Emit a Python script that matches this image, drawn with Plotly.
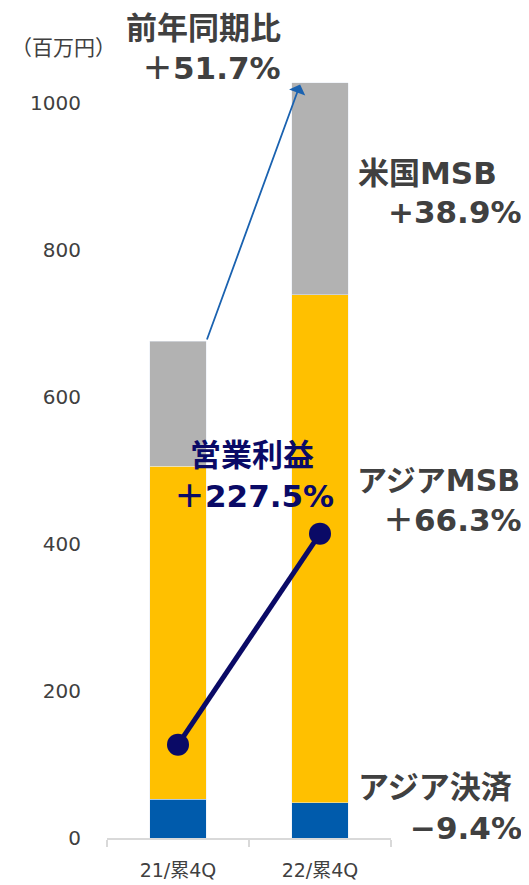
import plotly.graph_objects as go

categories = ["21/累4Q", "22/累4Q"]
asia_payment = [53, 48]
asia_msb = [453, 691]
us_msb = [170, 288]
operating_profit = [127, 414]
tick_vals = [0, 200, 400, 600, 800, 1000]

# page body has an 8px margin; compensate so the figure fills the 529x885 window
OFF = 8
W, H = 529 - OFF, 885 - OFF
L, R, T, B = 99, 138, 36, 47
pw, ph = W - L - R, H - T - B

def px(x):
    return (x - OFF - L) / pw

def py(y):
    return (H - B - (y - OFF)) / ph

FONT = "DejaVu Sans, Noto Sans CJK JP, sans-serif"
CJK = "Noto Sans CJK JP, sans-serif"
GRAY_TXT = "#404040"
NAVY = "#0a0a66"

fig = go.Figure()
fig.add_bar(x=categories, y=asia_payment, marker_color="#005bac", width=0.4, name="アジア決済")
fig.add_bar(x=categories, y=asia_msb, marker_color="#ffc000", width=0.4, name="アジアMSB")
fig.add_bar(x=categories, y=us_msb, marker_color="#b2b2b2", width=0.4, name="米国MSB")
fig.add_scatter(x=categories, y=operating_profit, mode="lines+markers",
                line=dict(color=NAVY, width=5),
                marker=dict(color=NAVY, size=22), name="営業利益")

totals = [a + b + c for a, b, c in zip(asia_payment, asia_msb, us_msb)]

annos = []
annos.append(dict(x=0.86, y=totals[1] - 2, ax=0.2, ay=totals[0], xref="x", yref="y",
                  axref="x", ayref="y", showarrow=True, arrowhead=1, arrowsize=1.6,
                  arrowwidth=1.8, arrowcolor="#1a62b0", text=""))

def txt(text, x, y, anchor, color=GRAY_TXT, size=31, bold=True, family=FONT):
    annos.append(dict(text=("<b>%s</b>" % text) if bold else text,
                      x=px(x), y=py(y), xref="paper", yref="paper",
                      xanchor=anchor, yanchor="middle", showarrow=False,
                      font=dict(family=family, size=size, color=color)))

txt("（百万円）", 9, 46, "left", color="#404040", size=21, bold=False, family=CJK)
txt("前年同期比", 283, 28, "right")
txt("＋51.7%", 283, 68, "right")
txt("米国MSB", 356, 173, "left")
txt("+38.9%", 524, 212, "right")
txt("営業利益", 252, 455, "center", color=NAVY)
txt("＋227.5%", 254, 496, "center", color=NAVY)
txt("アジアMSB", 522, 480, "right", size=30)
txt("＋66.3%", 524, 520, "right")
txt("アジア決済", 356, 787, "left")
txt("−9.4%", 524, 828, "right")

fig.update_layout(
    width=W, height=H, barmode="stack", showlegend=False,
    margin=dict(l=L, r=R, t=T, b=B, autoexpand=False),
    plot_bgcolor="white", paper_bgcolor="white",
    font=dict(family=FONT, color="#595959"),
    annotations=annos,
)
fig.update_xaxes(type="category", range=[-0.5, 1.5], showline=True, linecolor="#d9d9d9",
                 linewidth=1.5, ticks="outside", tickson="boundaries", ticklen=7,
                 tickcolor="#d9d9d9", tickwidth=1.5, showgrid=False, ticklabelstandoff=14,
                 automargin=False,
                 tickfont=dict(size=19, color="#404040", family=FONT))
fig.update_yaxes(range=[0, 1080], tickvals=tick_vals, showgrid=False, showline=False,
                 zeroline=False, ticks="", ticklabelstandoff=25, automargin=False,
                 tickfont=dict(size=20, color="#404040", family=FONT))

fig.write_html("out.html")
